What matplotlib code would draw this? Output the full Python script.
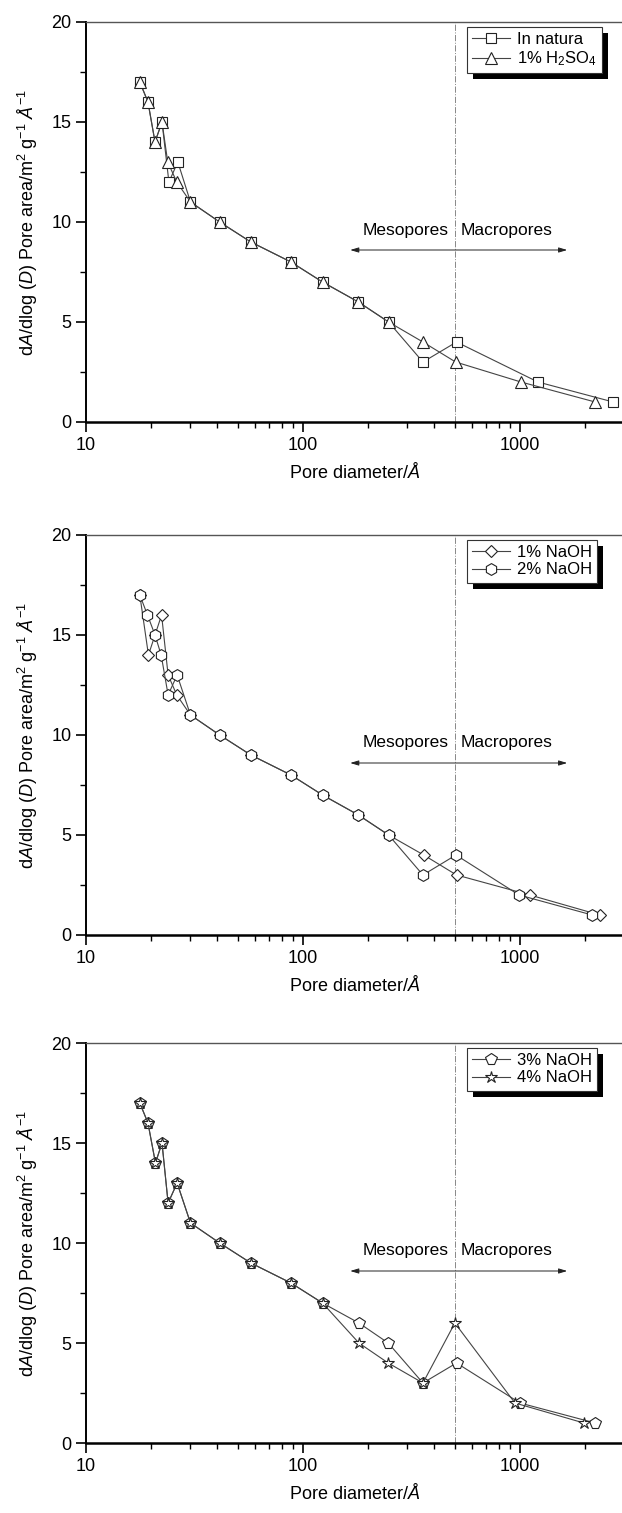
import math
import matplotlib
matplotlib.use("Agg")
import matplotlib.pyplot as plt
from matplotlib import ticker
from matplotlib.patches import Rectangle

plt.rcParams["font.family"] = ["Liberation Sans", "DejaVu Sans"]
plt.rcParams["mathtext.fontset"] = "custom"
plt.rcParams["mathtext.rm"] = "Liberation Sans"
plt.rcParams["mathtext.it"] = "Liberation Sans:italic"

# panel 1
diam_natura = [17.7, 19.3, 20.8, 22.4, 24.1, 26.5, 30.3, 41.3, 57.5, 88, 123, 180, 248, 357, 510, 1210, 2690]
area_natura = [17, 16, 14, 15, 12, 13, 11, 10, 9, 8, 7, 6, 5, 3, 4, 2, 1]
diam_h2so4 = [17.7, 19.3, 20.8, 22.4, 23.8, 26.2, 30.3, 41.3, 57.5, 88, 123, 180, 248, 357, 505, 1010, 2220]
area_h2so4 = [17, 16, 14, 15, 13, 12, 11, 10, 9, 8, 7, 6, 5, 4, 3, 2, 1]

# panel 2
diam_naoh1 = [17.7, 19.4, 20.8, 22.3, 23.9, 26.2, 30.3, 41.3, 57.5, 88, 123, 180, 248, 360, 510, 1110, 2330]
area_naoh1 = [17, 14, 15, 16, 13, 12, 11, 10, 9, 8, 7, 6, 5, 4, 3, 2, 1]
diam_naoh2 = [17.7, 19.2, 20.8, 22.2, 23.9, 26.3, 30.3, 41.3, 57.5, 88, 123, 180, 248, 357, 507, 990, 2150]
area_naoh2 = [17, 16, 15, 14, 12, 13, 11, 10, 9, 8, 7, 6, 5, 3, 4, 2, 1]

# panel 3
diam_naoh3 = [17.7, 19.3, 20.9, 22.4, 23.9, 26.3, 30.3, 41.3, 57.5, 88, 123, 181, 247, 357, 510, 1000, 2220]
area_naoh3 = [17, 16, 14, 15, 12, 13, 11, 10, 9, 8, 7, 6, 5, 3, 4, 2, 1]
diam_naoh4 = [17.7, 19.3, 20.9, 22.4, 23.9, 26.3, 30.3, 41.3, 57.5, 88, 123, 181, 247, 357, 501, 948, 1970]
area_naoh4 = [17, 16, 14, 15, 12, 13, 11, 10, 9, 8, 7, 5, 4, 3, 6, 2, 1]

panels = [
    [(diam_natura, area_natura, "s", "In natura"),
     (diam_h2so4, area_h2so4, "^", "1% H$_2$SO$_4$")],
    [(diam_naoh1, area_naoh1, "D", "1% NaOH"),
     (diam_naoh2, area_naoh2, "h", "2% NaOH")],
    [(diam_naoh3, area_naoh3, "p", "3% NaOH"),
     (diam_naoh4, area_naoh4, "*", "4% NaOH")],
]
marker_sizes = {"s": 7, "^": 8.5, "D": 6.5, "h": 8.5, "p": 8.5, "*": 9}

boundary = 500
arrow_span = (165, 1650)
arrow_y = 8.6
label_y = 9.6

W, H = 622, 1513
fig = plt.figure(figsize=(W / 100, H / 100), dpi=100)

left_px = 86
decade_px = 217
xmin, xmax = 10, 3000
width_px = decade_px * math.log10(xmax / xmin)
bottoms_px = [422, 935, 1443]
height_px = 400

axes = []
legends = []
for series, bottom_px in zip(panels, bottoms_px):
    ax = fig.add_axes([left_px / W, 1 - bottom_px / H, width_px / W, height_px / H])
    for d, a, m, lab in series:
        ax.plot(d, a, marker=m, color="#444444", lw=0.8, ms=marker_sizes[m],
                mfc="white", mec="#222222", mew=0.8, label=lab)
    ax.set_xscale("log")
    ax.set_xlim(xmin, xmax)
    ax.set_ylim(0, 20)
    ax.xaxis.set_major_locator(ticker.FixedLocator([10, 100, 1000]))
    ax.xaxis.set_major_formatter(ticker.FixedFormatter(["10", "100", "1000"]))
    ax.xaxis.set_minor_locator(ticker.LogLocator(base=10, subs=range(2, 10)))
    ax.xaxis.set_minor_formatter(ticker.NullFormatter())
    ax.yaxis.set_major_locator(ticker.MultipleLocator(5))
    ax.yaxis.set_minor_locator(ticker.MultipleLocator(2.5))
    ax.tick_params(which="major", direction="out", length=7, width=1.2, labelsize=13)
    ax.tick_params(which="minor", direction="out", length=4, width=1.0)
    ax.spines["left"].set_linewidth(1.4)
    ax.spines["bottom"].set_linewidth(1.8)
    ax.spines["top"].set_linewidth(1.0)
    ax.spines["top"].set_color("#555555")
    ax.spines["right"].set_visible(False)
    ax.axvline(boundary, color="#888888", lw=0.7, ls="-.", zorder=1)
    ax.annotate("", xy=(arrow_span[0], arrow_y), xytext=(arrow_span[1], arrow_y),
                arrowprops=dict(arrowstyle="<|-|>,head_length=0.5,head_width=0.15",
                                color="#222222", lw=0.7, shrinkA=0, shrinkB=0))
    ax.text(boundary / 1.07, label_y, "Mesopores", ha="right", va="center", fontsize=12.5)
    ax.text(boundary * 1.07, label_y, "Macropores", ha="left", va="center", fontsize=12.5)
    ax.set_xlabel("Pore diameter/$\\mathit{Å}$", fontsize=13, labelpad=6)
    ax.set_ylabel("d$\\mathit{A}$/dlog ($\\mathit{D}$) Pore area/m$^2$ g$^{-1}$ $\\mathit{Å}^{-1}$",
                  fontsize=13, labelpad=8)
    leg = ax.legend(loc="upper left",
                    bbox_to_anchor=(467 / W, 1 - (bottom_px - height_px + 5) / H),
                    bbox_transform=fig.transFigure, borderaxespad=0, fontsize=12,
                    frameon=True, fancybox=False, edgecolor="#333333",
                    facecolor="white", framealpha=1,
                    handlelength=2.3, handletextpad=0.4, labelspacing=0.15,
                    borderpad=0.3)
    leg.get_frame().set_linewidth(0.8)
    axes.append(ax)
    legends.append(leg)

fig.canvas.draw()
for ax, leg in zip(axes, legends):
    bb = leg.get_window_extent().transformed(fig.transFigure.inverted())
    shadow = Rectangle((bb.x0 + 6 / W, bb.y0 - 6 / H), bb.width, bb.height,
                       transform=fig.transFigure, facecolor="black", edgecolor="none",
                       zorder=4.5, clip_on=False)
    ax.add_artist(shadow)

fig.savefig("out.png", dpi=100)
